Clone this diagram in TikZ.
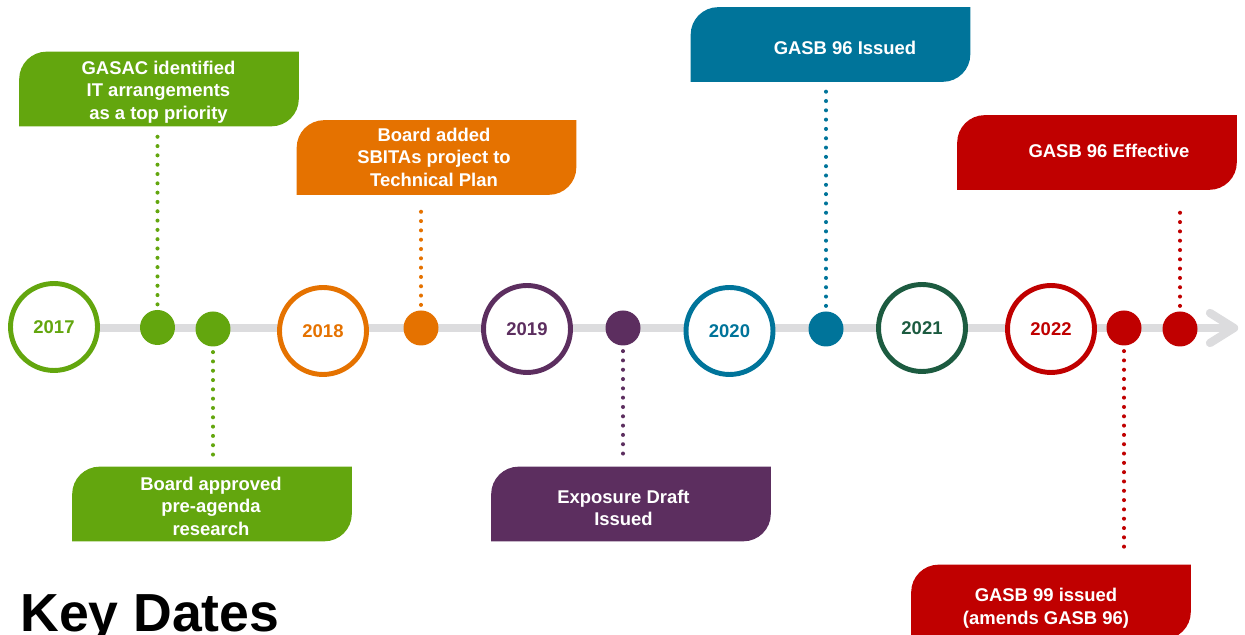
\documentclass[tikz,border=0pt]{standalone}
\usepackage{fontspec}
\setmainfont{Liberation Sans}
\definecolor{gGreen}{HTML}{63A60E}
\definecolor{gOrange}{HTML}{E57200}
\definecolor{gPurple}{HTML}{5C2E5F}
\definecolor{gTeal}{HTML}{00749A}
\definecolor{gDkGreen}{HTML}{1C5B40}
\definecolor{gRed}{HTML}{C00000}
\definecolor{gGray}{HTML}{DCDCDE}
\tikzset{
  yr/.style={circle, draw=#1, fill=white, line width=2.8pt, minimum size=1.74cm, inner sep=0pt, text=#1, font=\bfseries\fontsize{10.5}{12}\selectfont},
  dotn/.style={circle, fill=#1, minimum size=0.7cm, inner sep=0pt},
  boxn/.style={minimum width=5.58cm, minimum height=1.48cm, inner sep=0pt},
  btxt/.style={text=white, align=center, font=\bfseries\fontsize{10.5}{12.8}\selectfont, inner sep=0pt},
  conn/.style={draw=#1, line width=2.3pt, line cap=round, dash pattern=on 0pt off 5.3pt, shorten <=3pt, shorten >=5pt},
  tl/.style={draw=gGray, line width=4.7pt, line cap=round, line join=round},
}
\newcommand\tlbox[4]{%
  \node[boxn] (#1) at (#3,#4) {};
  \fill[#2] (#1.south west) -- ([yshift=-0.55cm]#1.north west) arc[start angle=180,end angle=90,radius=0.55cm] -- (#1.north east) -- ([yshift=0.55cm]#1.south east) arc[start angle=0,end angle=-90,radius=0.55cm] -- cycle;
}
\begin{document}
\begin{tikzpicture}[x=0.02cm,y=0.02cm]
\useasboundingbox (0,0) rectangle (1245,635);
\clip (0,0) rectangle (1245,635);
% timeline
\coordinate (start) at (100,307);
\coordinate (tip) at (1234,307);
\coordinate (armU) at (1210,322);
\coordinate (armD) at (1210,292);
\draw[tl] (start) -- (tip);
\draw[tl] (armU) -- (tip) -- (armD);
% year circles
\node[yr=gGreen] (c17) at (54,308) {2017};
\node[yr=gOrange] (c18) at (323,304) {2018};
\node[yr=gPurple] (c19) at (527,306) {2019};
\node[yr=gTeal] (c20) at (729.5,304) {2020};
\node[yr=gDkGreen] (c21) at (922,307) {2021};
\node[yr=gRed] (c22) at (1051,306) {2022};
% dots
\node[dotn=gGreen] (d1) at (157.5,307.5) {};
\node[dotn=gGreen] (d2) at (213,306) {};
\node[dotn=gOrange] (d3) at (421,307) {};
\node[dotn=gPurple] (d4) at (623,307) {};
\node[dotn=gTeal] (d5) at (826,306) {};
\node[dotn=gRed] (d6) at (1124,307) {};
\node[dotn=gRed] (d7) at (1180,306) {};
% boxes
\tlbox{b1}{gGreen}{159}{546}
\node[btxt] (t1) at (158.5,543) {GASAC identified\\IT arrangements\\as a top priority};
\tlbox{b2}{gGreen}{212}{131}
\node[btxt] (t2) at (211,129) {Board approved\\pre-agenda\\research};
\tlbox{b3}{gOrange}{436.5}{477.5}
\node[btxt] (t3) at (434,478) {Board added\\SBITAs project to\\Technical Plan};
\tlbox{b4}{gPurple}{631}{131}
\node[btxt] (t4) at (623.5,127) {Exposure Draft\\Issued};
\tlbox{b5}{gTeal}{830.5}{590.5}
\node[btxt] (t5) at (845,587) {GASB 96 Issued};
\tlbox{b6}{gRed}{1097}{482.5}
\node[btxt] (t6) at (1109,484) {GASB 96 Effective};
\tlbox{b7}{gRed}{1051}{33}
\node[btxt] (t7) at (1046,27) {GASB 99 issued\\(amends GASB 96)};
% connectors
\draw[conn=gGreen] (d1.north) -- (d1.north |- b1.south);
\draw[conn=gGreen] (d2.south) -- (d2.south |- b2.north);
\draw[conn=gOrange] (d3.north) -- (d3.north |- b3.south);
\draw[conn=gPurple] (d4.south) -- (d4.south |- b4.north);
\draw[conn=gTeal] (d5.north) -- (d5.north |- b5.south);
\draw[conn=gRed] (d6.south) -- (d6.south |- b7.north);
\draw[conn=gRed, shorten >=9pt] (d7.north) -- (d7.north |- b6.south);
% title
\node[anchor=base west, inner sep=0pt, font=\bfseries\fontsize{30.5}{36}\selectfont] (title) at (20,3) {Key Dates};
\end{tikzpicture}
\end{document}
